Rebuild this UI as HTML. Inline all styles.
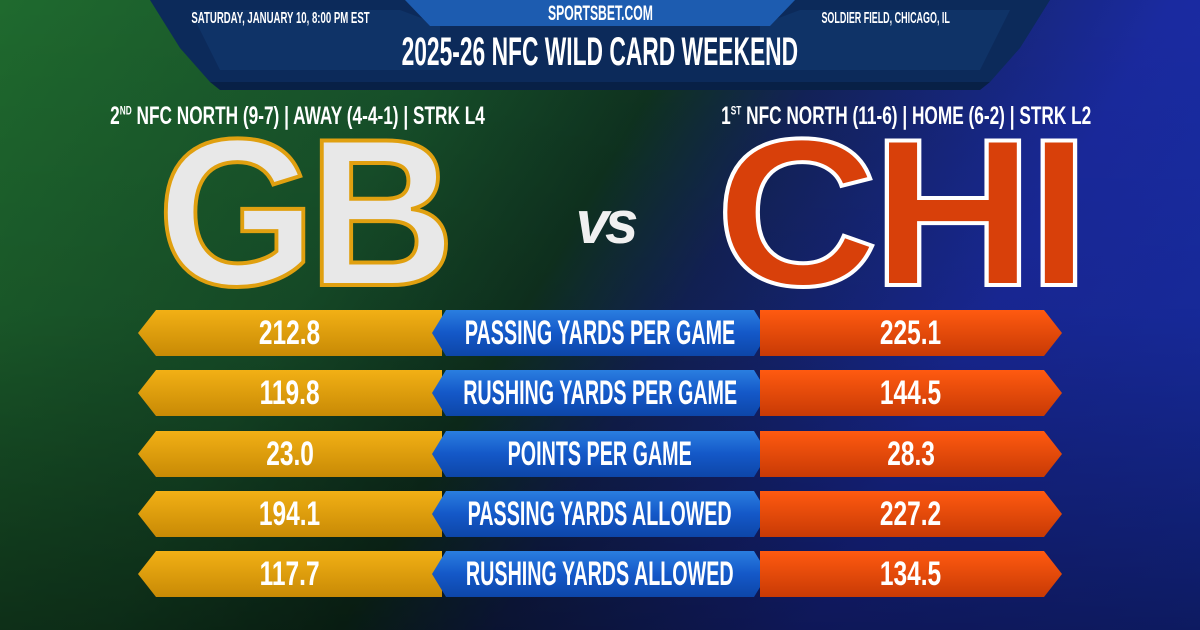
<!DOCTYPE html>
<html><head><meta charset="utf-8">
<style>
*{margin:0;padding:0;box-sizing:border-box}
html,body{width:1200px;height:630px;overflow:hidden}
body{position:relative;font-family:"Liberation Sans Narrow","Liberation Sans",sans-serif;background:#0a1420}
.bg{position:absolute;inset:0;background:linear-gradient(120deg,#1f6a2e 0%,#17502a 30%,#0f3320 45%,#13235a 55%,#1a2aa0 75%,#1830b0 100%)}
.shade{position:absolute;inset:0;background:linear-gradient(180deg,rgba(0,0,0,0) 0%,rgba(0,0,0,0.1) 50%,rgba(0,0,0,0.45) 100%)}
.t{position:absolute;color:#fff;font-weight:bold;white-space:nowrap;text-align:center}
.c{display:inline-block;transform:scaleX(0.8);transform-origin:center;white-space:nowrap}
.bar{position:absolute;height:46px}
.gold{left:138px;width:304px;background:linear-gradient(#f2b015,#c88a05);clip-path:polygon(18px 0,100% 0,100% 100%,18px 100%,0 50%)}
.blue{left:432px;width:336px;background:linear-gradient(#2a7ee0 0%,#1458c8 50%,#0d46a8 100%);clip-path:polygon(14px 0,calc(100% - 14px) 0,100% 50%,calc(100% - 14px) 100%,14px 100%,0 50%)}
.org{left:760px;width:302px;background:linear-gradient(#ff5a10,#c83a05);clip-path:polygon(0 0,calc(100% - 18px) 0,100% 50%,calc(100% - 18px) 100%,0 100%)}
.bar span{position:absolute;left:-100px;right:-100px;top:0;line-height:46px;text-align:center;color:#fff;font-weight:bold;font-size:34px;white-space:nowrap}
.bar span i{font-style:normal;display:inline-block;transform:scaleX(0.72)}
.blue span i{transform:scaleX(0.58)}
</style></head><body>
<div class="bg"></div><div class="shade"></div>
<svg style="position:absolute;left:0;top:0" width="1200" height="100">
<polygon points="150,0 1050,0 1020,48 990,82 210,82 180,48" fill="#0c2a5a"/>
<polygon points="190,10 400,10 440,25 440,70 220,70" fill="#123a70" opacity="0.6"/>
<polygon points="1010,10 800,10 760,25 760,70 980,70" fill="#123a70" opacity="0.6"/>
<polygon points="405,0 795,0 770,26 430,26" fill="#1d5cb0"/>
<polygon points="210,82 990,82 980,90 220,90" fill="#082046"/>
</svg>
<div class="t" style="left:80px;width:400px;top:10px;font-size:16px"><span class="c" style="transform:scaleX(0.6)">SATURDAY, JANUARY 10, 8:00 PM EST</span></div>
<div class="t" style="left:686px;width:400px;top:10px;font-size:16px"><span class="c" style="transform:scaleX(0.56)">SOLDIER FIELD, CHICAGO, IL</span></div>
<div class="t" style="left:300px;width:600px;top:2px;font-size:21px"><span class="c" style="transform:scaleX(0.58)">SPORTSBET.COM</span></div>
<div class="t" style="left:0;width:1200px;top:30px;font-size:40px"><span class="c" style="transform:scaleX(0.57)">2025-26 NFC WILD CARD WEEKEND</span></div>
<div class="t" style="left:-3px;width:600px;top:102px;font-size:25px"><span class="c" style="transform:scaleX(0.69)">2<sup style="font-size:12px">ND</sup> NFC NORTH (9-7) | AWAY (4-4-1) | STRK L4</span></div>
<div class="t" style="left:606px;width:600px;top:102px;font-size:25px"><span class="c" style="transform:scaleX(0.69)">1<sup style="font-size:12px">ST</sup> NFC NORTH (11-6) | HOME (6-2) | STRK L2</span></div>
<div class="t" style="left:147px;width:310px;top:92px;font-size:210px;font-family:'Liberation Sans',sans-serif;color:#e8e8e8;-webkit-text-stroke:4px #e0a010;letter-spacing:-8px"><span class="c" style="transform:scaleX(0.97)">GB</span></div>
<div class="t" style="left:700px;width:400px;top:92px;font-size:210px;font-family:'Liberation Sans',sans-serif;color:#d8400a;-webkit-text-stroke:4px #fff;letter-spacing:-6px"><span class="c" style="transform:scaleX(1.07)">CHI</span></div>
<div class="t" style="left:560px;width:90px;top:188px;font-size:60px;font-style:italic;font-family:'Liberation Sans',sans-serif;color:#f0f0f0;letter-spacing:-4px">vs</div>

<div class="bar gold" style="top:310px"><span><i>212.8</i></span></div>
<div class="bar blue" style="top:310px"><span><i>PASSING YARDS PER GAME</i></span></div>
<div class="bar org" style="top:310px"><span><i>225.1</i></span></div>

<div class="bar gold" style="top:370px"><span><i>119.8</i></span></div>
<div class="bar blue" style="top:370px"><span><i>RUSHING YARDS PER GAME</i></span></div>
<div class="bar org" style="top:370px"><span><i>144.5</i></span></div>

<div class="bar gold" style="top:431px"><span><i>23.0</i></span></div>
<div class="bar blue" style="top:431px"><span><i>POINTS PER GAME</i></span></div>
<div class="bar org" style="top:431px"><span><i>28.3</i></span></div>

<div class="bar gold" style="top:491px"><span><i>194.1</i></span></div>
<div class="bar blue" style="top:491px"><span><i>PASSING YARDS ALLOWED</i></span></div>
<div class="bar org" style="top:491px"><span><i>227.2</i></span></div>

<div class="bar gold" style="top:551px"><span><i>117.7</i></span></div>
<div class="bar blue" style="top:551px"><span><i>RUSHING YARDS ALLOWED</i></span></div>
<div class="bar org" style="top:551px"><span><i>134.5</i></span></div>
</body></html>
